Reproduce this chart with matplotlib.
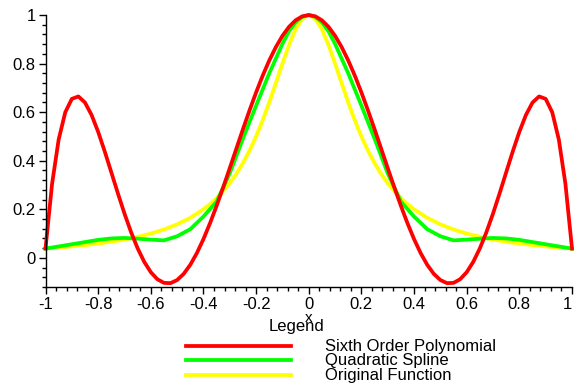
import matplotlib
matplotlib.use("Agg")
import matplotlib.pyplot as plt
from matplotlib.lines import Line2D
from matplotlib.ticker import MultipleLocator

# ---- data ----
poly_x = [-1.0, -0.975, -0.95, -0.925, -0.9, -0.875, -0.85, -0.825, -0.8, -0.775, -0.75, -0.725,
          -0.7, -0.675, -0.65, -0.625, -0.6, -0.575, -0.55, -0.525, -0.5, -0.475, -0.45, -0.425,
          -0.4, -0.375, -0.35, -0.325, -0.3, -0.275, -0.25, -0.225, -0.2, -0.175, -0.15, -0.125,
          -0.1, -0.075, -0.05, -0.025, 0.0, 0.025, 0.05, 0.075, 0.1, 0.125, 0.15, 0.175,
          0.2, 0.225, 0.25, 0.275, 0.3, 0.325, 0.35, 0.375, 0.4, 0.425, 0.45, 0.475,
          0.5, 0.525, 0.55, 0.575, 0.6, 0.625, 0.65, 0.675, 0.7, 0.725, 0.75, 0.775,
          0.8, 0.825, 0.85, 0.875, 0.9, 0.925, 0.95, 0.975, 1.0]
poly_y = [0.0385, 0.3050, 0.4871, 0.5992, 0.6546, 0.6647, 0.6396, 0.5884, 0.5189, 0.4383, 0.3522, 0.2656,
          0.1824, 0.1060, 0.0392, -0.0163, -0.0590, -0.0881, -0.1030, -0.1041, -0.0914, -0.0659, -0.0285, 0.0197,
          0.0773, 0.1427, 0.2143, 0.2905, 0.3696, 0.4499, 0.5297, 0.6073, 0.6813, 0.7503, 0.8128, 0.8678,
          0.9142, 0.9513, 0.9782, 0.9945, 1.0, 0.9945, 0.9782, 0.9513, 0.9142, 0.8678, 0.8128, 0.7503,
          0.6813, 0.6073, 0.5297, 0.4499, 0.3696, 0.2905, 0.2143, 0.1427, 0.0773, 0.0197, -0.0285, -0.0659,
          -0.0914, -0.1041, -0.1030, -0.0881, -0.0590, -0.0163, 0.0392, 0.1060, 0.1824, 0.2656, 0.3522, 0.4383,
          0.5189, 0.5884, 0.6396, 0.6647, 0.6546, 0.5992, 0.4871, 0.3050, 0.0385]

spline_x = [-1.0, -0.95, -0.9, -0.85, -0.8, -0.75, -0.7, -0.65, -0.6, -0.55, -0.5, -0.45, -0.4,
            -0.35, -0.3, -0.25, -0.2, -0.15, -0.1, -0.075, -0.05, -0.025, 0.0, 0.025, 0.05, 0.075,
            0.1, 0.15, 0.2, 0.25, 0.3, 0.35, 0.4, 0.45, 0.5, 0.55, 0.6, 0.65, 0.7, 0.75, 0.8, 0.85,
            0.9, 0.95, 1.0]
spline_y = [0.038, 0.047, 0.056, 0.065, 0.074, 0.080, 0.082, 0.079, 0.075, 0.072, 0.089, 0.118, 0.170,
            0.232, 0.348, 0.491, 0.627, 0.760, 0.881, 0.933, 0.970, 0.992, 1.0, 0.992, 0.970, 0.933,
            0.881, 0.760, 0.627, 0.491, 0.348, 0.232, 0.170, 0.118, 0.089, 0.072, 0.075, 0.079, 0.082, 0.080, 0.074, 0.065,
            0.056, 0.047, 0.038]

orig_x = [-1.0, -0.95, -0.9, -0.85, -0.8, -0.75, -0.7, -0.65, -0.6, -0.55, -0.5, -0.45, -0.4,
          -0.375, -0.35, -0.325, -0.3, -0.275, -0.25, -0.225, -0.2, -0.175, -0.15, -0.125,
          -0.1, -0.075, -0.05, -0.025, 0.0, 0.025, 0.05, 0.075, 0.1, 0.125, 0.15, 0.175,
          0.2, 0.225, 0.25, 0.275, 0.3, 0.325, 0.35, 0.375, 0.4, 0.45, 0.5, 0.55, 0.6, 0.65,
          0.7, 0.75, 0.8, 0.85, 0.9, 0.95, 1.0]
orig_y = [0.0385, 0.0424, 0.0471, 0.0525, 0.0588, 0.0664, 0.0755, 0.0865, 0.1000, 0.1168, 0.1379, 0.1649, 0.2000,
          0.2215, 0.2462, 0.2747, 0.3077, 0.3459, 0.3902, 0.4414, 0.5000, 0.5664, 0.6400, 0.7191,
          0.8000, 0.8767, 0.9412, 0.9846, 1.0, 0.9846, 0.9412, 0.8767, 0.8000, 0.7191, 0.6400, 0.5664,
          0.5000, 0.4414, 0.3902, 0.3459, 0.3077, 0.2747, 0.2462, 0.2215, 0.2000, 0.1649, 0.1379, 0.1168, 0.1000, 0.0865,
          0.0755, 0.0664, 0.0588, 0.0525, 0.0471, 0.0424, 0.0385]

x_ticks = [-1, -0.8, -0.6, -0.4, -0.2, 0, 0.2, 0.4, 0.6, 0.8, 1]
x_tick_labels = ["-1", "-0.8", "-0.6", "-0.4", "-0.2", "0", "0.2", "0.4", "0.6", "0.8", "1"]
y_ticks = [0, 0.2, 0.4, 0.6, 0.8, 1]
y_tick_labels = ["0", "0.2", "0.4", "0.6", "0.8", "1"]
legend_labels = ["Sixth Order Polynomial", "Quadratic Spline", "Original Function"]
colors = ["#ff0000", "#00ff00", "#ffff00"]

plt.rcParams['font.family'] = ['Liberation Sans', 'DejaVu Sans']
W, H = 574, 385
fig = plt.figure(figsize=(W / 100, H / 100), dpi=100)
ax = fig.add_axes([45.5 / W, 1 - 287 / H, (572 - 45.5) / W, (287 - 15) / H])

lw = 2.7
ax.plot(orig_x, orig_y, color=colors[2], lw=lw, solid_joinstyle='round', clip_on=False)
ax.plot(spline_x, spline_y, color=colors[1], lw=lw, solid_joinstyle='round', clip_on=False)
ax.plot(poly_x, poly_y, color=colors[0], lw=lw, solid_joinstyle='round', clip_on=False)

ax.set_xlim(-1, 1)
ax.set_ylim(-0.12, 1.0)
for s in ["top", "right"]:
    ax.spines[s].set_visible(False)
for s in ["left", "bottom"]:
    ax.spines[s].set_linewidth(1.0)
    ax.spines[s].set_color("black")

ax.set_xticks(x_ticks)
ax.set_xticklabels(x_tick_labels)
ax.set_yticks(y_ticks)
ax.set_yticklabels(y_tick_labels)
ax.xaxis.set_minor_locator(MultipleLocator(0.04))
ax.yaxis.set_minor_locator(MultipleLocator(0.04))
ax.tick_params(which='major', direction='out', length=5, width=1, labelsize=12, colors='black', pad=2)
ax.tick_params(which='minor', direction='out', length=3, width=1)
ax.get_xticklabels()[-1].set_horizontalalignment('right')

# axis label and legend block (Maple style, below the axes)
fig.text(309 / W, 1 - 318 / H, "x", ha='center', va='center', fontsize=11)
fig.text(297 / W, 1 - 327 / H, "Legend", ha='center', va='center', fontsize=12)
line_ys = [346, 360, 375]
for lab, col, yy in zip(legend_labels, colors, line_ys):
    fig.add_artist(Line2D([186 / W, 291 / W], [1 - yy / H, 1 - yy / H], color=col, lw=lw))
    fig.text(325 / W, 1 - (yy + 5) / H, lab, ha='left', va='baseline', fontsize=12)

fig.savefig("out.png", dpi=100)
